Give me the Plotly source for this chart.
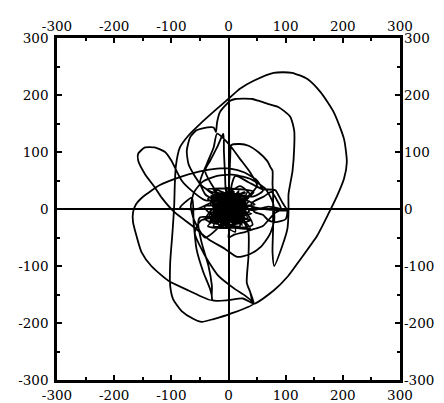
import plotly.graph_objects as go

AXIS_RANGE = [-300, 300]
TICK_VALUES = [-300, -200, -100, 0, 100, 200, 300]
TICK_LABELS = ["-300", "-200", "-100", "0", "100", "200", "300"]

# Trajectory, split into named pieces (x, y pairs)
CORE_1 = [[0, 0], [22, 18], [-18, -8], [30, -4], [-14, 24], [8, -24], [-28, 6], [26, 22], [-6, -18],
          [18, 28], [-24, -14], [14, 6], [-10, 30], [34, -10], [-26, 18], [4, -30], [20, 20],
          [-16, -22], [30, 10], [-8, 12], [16, -16], [-32, -4], [10, 30], [-20, 20], [24, -24],
          [-4, 6], [36, 14], [-22, -26], [6, 24], [-14, -4], [28, -14], [-30, 24], [14, -8],
          [-10, -28], [32, 28], [-22, 8], [4, 18], [20, -30], [-34, -12], [10, 10]]
SPIKE_RIGHT = [[50, 2], [80, -2], [103, -3], [70, 4], [40, -2]]
CORE_2 = [[-12, 22], [26, 2], [-18, -18], [2, -12], [38, -20], [-26, -30], [18, 32], [-8, -8],
          [24, 12], [-20, 28], [14, -22], [-30, -8], [30, 24], [-4, -24], [16, 16], [-26, 12],
          [8, -4], [34, 4], [-14, -30], [2, 28], [-36, 18], [22, -12], [-6, 14], [12, -32],
          [-24, -4], [28, 30], [-16, 6], [40, -8], [-10, -16], [6, 6]]
LOOP_A = [[30, -28], [35, -41], [35, -82], [32, -129], [38, -146], [44, -166], [79, -143],
          [104, -118], [126, -88], [155, -47], [176, -6], [190, 23], [202, 53], [207, 82],
          [202, 123], [184, 170], [161, 205], [138, 228], [111, 239], [79, 239], [44, 225],
          [20, 211], [3, 196], [-20, 176], [-50, 149], [-70, 129], [-85, 108], [-92, 76],
          [-94, 41], [-95, 6], [-98, -41], [-102, -94], [-102, -135], [-97, -158], [-82, -179],
          [-61, -193], [-47, -198], [-26, -193], [3, -184], [44, -166], [29, -152], [12, -141],
          [-18, -117], [-41, -82], [-59, -41], [-48, -20]]
CORE_3 = [[18, -6], [-20, 14], [10, 26], [-8, -22], [30, -18], [-28, -18], [0, 32], [20, 8],
          [-14, 10], [24, -28], [-32, 10], [12, 18], [-2, -6], [36, 20], [-18, -30], [6, -16],
          [-24, 26], [26, -2], [-10, 4], [16, 24]]
LOOP_E = [[44, 22], [60, 32], [50, 50], [28, 64], [3, 71], [-20, 71], [-50, 66], [-85, 56],
          [-120, 42], [-149, 22], [-162, 8], [-167, -6], [-167, -23], [-161, -47], [-152, -76],
          [-135, -100], [-105, -126], [-70, -143], [-29, -160], [-32, -141], [-44, -111],
          [-56, -70], [-61, -23], [-64, 20], [-85, 2], [-55, 0]]
CORE_4 = [[-6, 20], [20, -20], [-30, -14], [8, 14], [32, 0], [-16, -12], [4, 30], [-22, 2],
          [28, 16], [-8, -30], [14, -4], [-26, 20], [22, 26], [-12, -20], [38, 6], [0, -10],
          [-34, -24], [12, 22], [-4, 2], [26, -12]]
LINE_KINK = [[-50, -15], [-53, -25], [-47, -59], [-35, -100], [-29, -135], [-28, -160],
             [0, -160], [25, -157], [44, -166], [38, -146], [32, -129], [35, -82], [35, -41],
             [28, -22]]
CORE_5 = [[-14, 16], [18, -10], [-24, 8], [10, -26], [30, 20], [-20, -24], [4, 12], [24, 4],
          [-30, 18], [8, -14], [-12, 28], [34, -16], [-6, -4], [16, 26], [-26, -8], [2, 20]]
LOOP_D_G = [[-40, 15], [-62, 30], [-82, 50], [-100, 85], [-111, 100], [-129, 108], [-146, 108],
            [-158, 97], [-158, 85], [-146, 61], [-129, 38], [-117, 20], [-94, -6], [-64, -29],
            [-35, -53], [-6, -70], [15, -84], [38, -79], [56, -67], [72, -45], [80, -20],
            [78, 10], [65, 35], [40, 52], [10, 60], [-20, 58], [-45, 48], [-60, 30], [-66, 5],
            [-60, -20], [-41, -50], [-20, -35]]
CORE_6 = [[12, 8], [-18, 22], [26, -20], [-28, 0], [6, -28], [30, 12], [-10, -10], [18, 30],
          [-32, -20], [14, -2], [-4, 24], [28, -6], [-20, -16], [4, 4], [-38, 34], [44, 30],
          [-36, -30], [42, -28], [-4, 38], [12, -40], [-42, 4], [46, 8]]
LOOP_C_B_F = [[2, 30], [2, 60], [3, 90], [5, 112], [20, 114], [35, 111], [52, 100], [68, 84],
              [73, 74], [77, 67], [77, 44], [78, 26], [78, -10], [78, -35], [77, -76], [80, -100],
              [94, -65], [103, -35], [105, -5], [105, 26], [112, 67], [115, 109], [115, 137],
              [108, 162], [87, 179], [70, 184], [52, 190], [42, 193], [12, 193], [3, 190],
              [-15, 170], [-20, 152], [-22, 135], [-26, 143], [-47, 141], [-56, 138], [-67, 126],
              [-73, 102], [-70, 79], [-61, 61], [-50, 44], [-40, 25]]
CORE_7 = [[-10, 8], [22, -16], [-24, -22], [16, 20], [-14, -2], [32, -26], [-30, 12], [8, 28],
          [0, -20], [24, 10], [-28, 36], [38, -34], [-40, -18], [20, 40], [40, 22]]
SPIKE_H = [[-30, 30], [-50, 45], [-38, 79], [-26, 108], [-20, 132], [3, 111], [20, 88],
           [38, 64], [50, 41], [30, 20], [-10, 18], [-41, 67], [-32, 85], [-20, 108],
           [-9, 132], [-8, 100], [-6, 60], [-4, 30]]
CORE_8 = [[20, -4], [-22, -10], [12, 24], [-8, -26], [28, 8], [-28, 22], [6, -8], [36, -4]]
WIGGLE_RIGHT = [[5, 35], [12, 58], [35, 47], [59, 35], [82, 33], [88, 23], [95, 10], [103, -3],
                [100, -18], [82, -23], [70, -20], [60, -10], [45, -5], [40, 10], [62, 22],
                [75, 30], [85, 15], [92, 0], [80, -8], [60, -30], [45, -35], [30, -40],
                [10, -45], [0, -50], [2, -30]]
CORE_9 = [[-16, -14], [20, 14], [-26, 4], [10, -18], [-4, 22], [26, -10], [-12, 6], [14, -2],
          [-20, 26], [30, 2], [0, 0]]

PATH = (CORE_1 + SPIKE_RIGHT + CORE_2 + LOOP_A + CORE_3 + LOOP_E + CORE_4 + LINE_KINK +
        CORE_5 + LOOP_D_G + CORE_6 + LOOP_C_B_F + CORE_7 + SPIKE_H + CORE_8 + WIGGLE_RIGHT +
        CORE_9)
xs = [p[0] for p in PATH]
ys = [p[1] for p in PATH]

fig = go.Figure()
fig.add_trace(go.Scatter(x=xs, y=ys, mode="lines",
                         line=dict(color="black", width=1.8, shape="spline", smoothing=0.6),
                         hoverinfo="skip", showlegend=False))
fig.add_trace(go.Scatter(x=AXIS_RANGE, y=AXIS_RANGE, xaxis="x2", yaxis="y2", mode="markers",
                         marker=dict(opacity=0), hoverinfo="skip", showlegend=False))

SERIF = "DejaVu Serif"
font = dict(family=SERIF, size=13.5, color="black")
base = dict(range=AXIS_RANGE, tickmode="array", tickvals=TICK_VALUES, ticktext=TICK_LABELS,
            showgrid=False, tickfont=font, fixedrange=True, automargin=False)
main = dict(base, ticks="inside", ticklen=5, tickwidth=1.5, tickcolor="black",
            mirror="allticks", showline=True, linewidth=2.5, linecolor="black",
            zeroline=True, zerolinewidth=2, zerolinecolor="black",
            minor=dict(tickmode="linear", tick0=0, dtick=50, ticks="inside", ticklen=3,
                       tickwidth=1.5, tickcolor="black"))
extra = dict(base, ticks="", showline=False, zeroline=False)

fig.update_layout(
    width=444, height=403,
    font=font,
    margin=dict(l=57, r=44, t=38, b=23, autoexpand=False),
    paper_bgcolor="white", plot_bgcolor="white",
    xaxis=dict(main, side="bottom", ticklabelstandoff=1),
    yaxis=dict(main, side="left", ticklabelstandoff=3),
    xaxis2=dict(extra, overlaying="x", side="top", matches="x", ticklabelstandoff=3),
    yaxis2=dict(extra, overlaying="y", side="right", matches="y", ticklabelstandoff=3),
    showlegend=False,
)
fig.write_html("out.html", config={"displayModeBar": False},
               post_script="document.body.style.margin='0px';")
